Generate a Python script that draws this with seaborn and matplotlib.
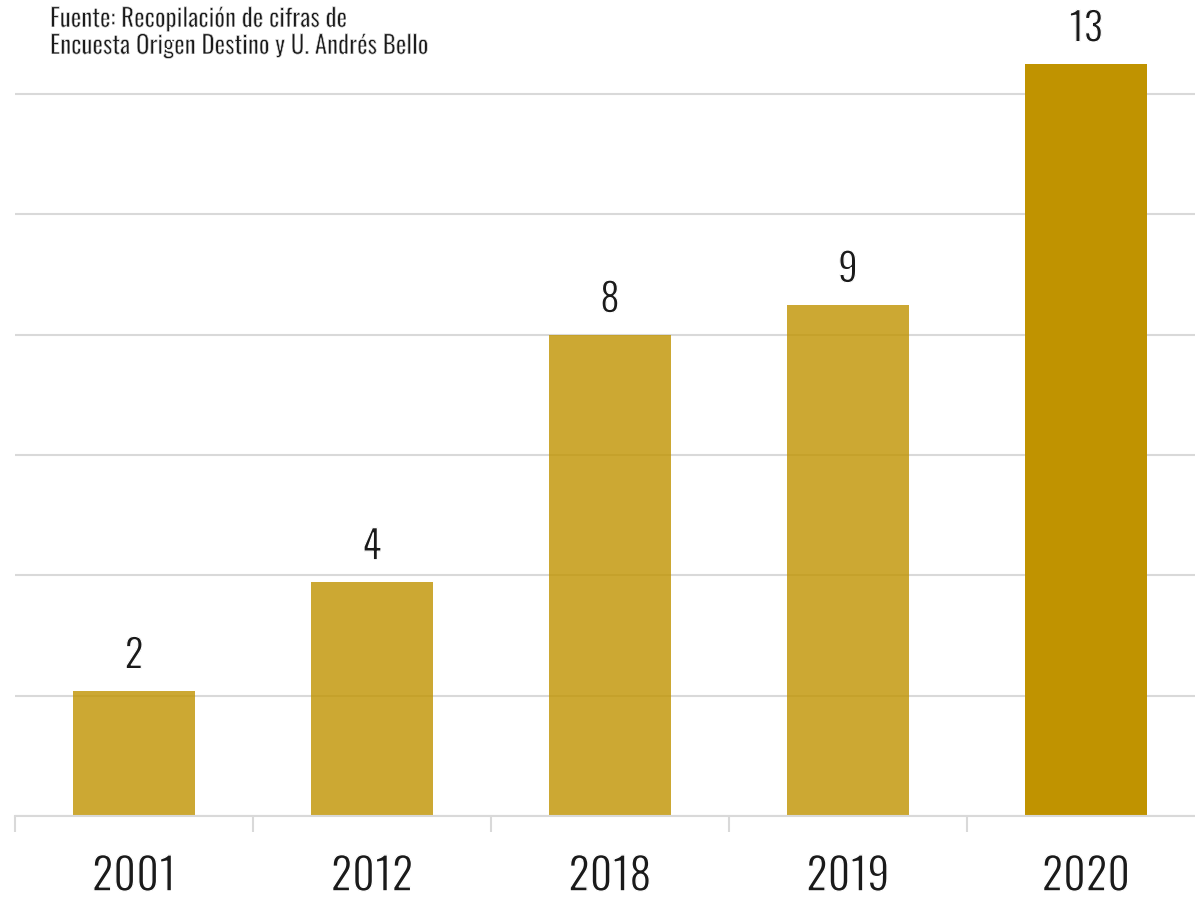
import matplotlib
matplotlib.use("Agg")
import matplotlib.pyplot as plt
from matplotlib import font_manager
import matplotlib.patheffects as pe
import seaborn as sns
import numpy as np
import pandas as pd

# Data
years = ["2001", "2012", "2018", "2019", "2020"]
values = [2.08, 3.89, 8.0, 8.5, 12.5]
source_lines = ["Fuente: Recopilación de cifras de",
                "Encuesta Origen Destino y U. Andrés Bello"]

BAR_COLOR = "#C09300"
GRID_COLOR = "#D9D9D9"
TEXT_COLOR = "#1A1A1A"

sns.set_theme(style="white")


def pick_font():
    """Prefer a light, narrow face; returns (props, family, is_light)."""
    fonts = [f for f in font_manager.fontManager.ttflist
             if "italic" not in f.fname.lower()]
    for f in fonts:
        fn = f.fname.lower()
        if "oswald" in fn and "light" in fn and "extra" not in fn:
            return font_manager.FontProperties(fname=f.fname), f.name, True
    for f in fonts:
        if f.name.startswith("Oswald") and f.weight == 300:
            return font_manager.FontProperties(fname=f.fname), f.name, True
    for f in fonts:
        if f.name == "Oswald":
            return font_manager.FontProperties(fname=f.fname), f.name, False
    for f in fonts:
        if f.name == "Barlow Condensed" and f.weight == 300:
            return font_manager.FontProperties(fname=f.fname), f.name, True
    return font_manager.FontProperties(family="DejaVu Sans"), "DejaVu Sans", False


FONT, FONT_NAME, IS_LIGHT = pick_font()
plt.rcParams["font.family"] = [FONT_NAME, "DejaVu Sans"]


def fp(size):
    p = FONT.copy()
    p.set_size(size)
    return p


def thin(width):
    """Trim glyph outlines with a white edge so a regular face reads lighter."""
    if IS_LIGHT:
        return []
    return [pe.Normal(), pe.Stroke(linewidth=width, foreground="white")]


W, H = 1195, 902
PX_PER_UNIT = 60.17
fig = plt.figure(figsize=(W / 100, H / 100), dpi=100)
ymax = 13.5
ax = fig.add_axes([15 / W, 86 / H, 1190 / W, ymax * PX_PER_UNIT / H])

df = pd.DataFrame({"year": years, "value": values})
sns.barplot(data=df, x="year", y="value", hue="year",
            palette=[BAR_COLOR] * len(years), legend=False,
            width=0.51, saturation=1, ax=ax)

for p in ax.patches[:-1]:
    p.set_alpha(0.8)
for p in ax.patches:
    p.set_edgecolor("none")

ax.set_xlim(-0.5, len(years) - 0.5)
ax.set_ylim(0, ymax)
ax.set_axisbelow(True)
ax.set_yticks(np.arange(0, 13, 2))
ax.yaxis.grid(True, color=GRID_COLOR, linewidth=1.5)
ax.tick_params(axis="y", left=False, labelleft=False)
ax.set_xlabel("")
ax.set_ylabel("")

for s in ["top", "right", "left"]:
    ax.spines[s].set_visible(False)
ax.spines["bottom"].set_color(GRID_COLOR)
ax.spines["bottom"].set_linewidth(1.5)

# category labels, with separator ticks between categories
ax.set_xticks(range(len(years)))
ax.set_xticklabels(years, fontproperties=fp(32), color=TEXT_COLOR)
for t in ax.get_xticklabels():
    t.set_path_effects(thin(1.0))
ax.tick_params(axis="x", which="major", length=0, pad=28)
ax.set_xticks(np.arange(-0.5, len(years) - 0.5, 1.0), minor=True)
ax.tick_params(axis="x", which="minor", bottom=True, length=11.5,
               width=1.5, color=GRID_COLOR, direction="out")

# value labels above each bar
for i, v in enumerate(values):
    label = str(int(np.floor(v + 0.5)))
    ax.annotate(label, xy=(i, v), xytext=(0, 16), textcoords="offset points",
                ha="center", va="baseline", fontproperties=fp(28.5),
                color=TEXT_COLOR, annotation_clip=False,
                path_effects=thin(0.9))

# source note
fig.text(50 / W, 1 - 27 / H, source_lines[0], ha="left", va="baseline",
         fontproperties=fp(18), color=TEXT_COLOR, path_effects=thin(0.5))
fig.text(50 / W, 1 - 54 / H, source_lines[1], ha="left", va="baseline",
         fontproperties=fp(18), color=TEXT_COLOR, path_effects=thin(0.5))

fig.savefig("out.png", dpi=100)
